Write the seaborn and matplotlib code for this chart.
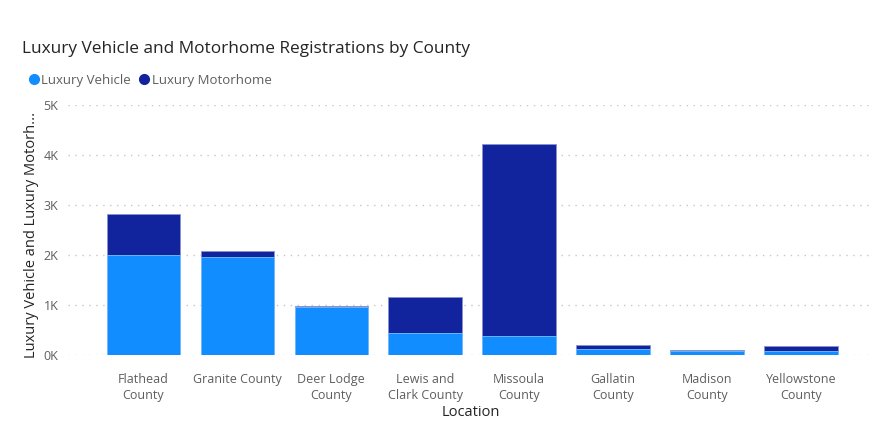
import matplotlib
matplotlib.use("Agg")
import matplotlib.pyplot as plt
import seaborn as sns
import pandas as pd
from matplotlib.lines import Line2D
from matplotlib.ticker import FuncFormatter

# values (registrations)
counties = ["Flathead County", "Granite County", "Deer Lodge County", "Lewis and Clark County",
            "Missoula County", "Gallatin County", "Madison County", "Yellowstone County"]
tick_labels = ["Flathead\nCounty", "Granite County", "Deer Lodge\nCounty", "Lewis and\nClark County",
               "Missoula\nCounty", "Gallatin\nCounty", "Madison\nCounty", "Yellowstone\nCounty"]
luxury_vehicle = [2000, 1970, 960, 450, 380, 130, 85, 80]
luxury_motorhome = [830, 120, 20, 720, 3850, 80, 15, 100]

df = pd.DataFrame({"Location": counties, "vehicle": luxury_vehicle, "motorhome": luxury_motorhome})
df["total"] = df["vehicle"] + df["motorhome"]

sns.set_style("white")
plt.rcParams['font.family'] = ['Open Sans', 'DejaVu Sans']

light = "#118DFF"
dark = "#12239E"
grey = "#605E5C"

fig = plt.figure(figsize=(8.84, 4.38), dpi=100)
ax = fig.add_axes([0.077, 0.1895, 0.912, 0.5705])

# stacked look: total in dark, vehicle share on top of it in light blue
sns.barplot(data=df, x="Location", y="total", color=dark, width=0.78, saturation=1,
            edgecolor="#8a93d0", linewidth=0.6, ax=ax)
sns.barplot(data=df, x="Location", y="vehicle", color=light, width=0.78, saturation=1,
            edgecolor="#7cc0ff", linewidth=0.6, ax=ax)

ax.set_ylim(0, 5000)
ax.set_xlim(-0.8, 7.78)
ax.set_yticks([0, 1000, 2000, 3000, 4000, 5000])
ax.yaxis.set_major_formatter(FuncFormatter(lambda v, p: f"{int(v/1000)}K"))
ax.set_xticks(range(len(tick_labels)))
ax.set_xticklabels(tick_labels, fontsize=9, color=grey, linespacing=1.3)
ax.tick_params(axis="y", labelsize=9, labelcolor=grey, length=0, pad=7)
ax.tick_params(axis="x", length=0, pad=13)
ax.set_axisbelow(True)
ax.yaxis.grid(True, color="#C8C6C4", linestyle=(0, (1, 4)), linewidth=1)
for s in ax.spines.values():
    s.set_visible(False)

ax.set_xlabel("Location", fontsize=10.5, color="#252423", labelpad=2)
ax.set_ylabel("Luxury Vehicle and Luxury Motorh...", fontsize=10.5, color="#252423")
ax.yaxis.set_label_coords(-0.036, 0.48)

fig.text(0.025, 0.888, "Luxury Vehicle and Motorhome Registrations by County",
         fontsize=12.4, color="#252423", va="center")

handles = [Line2D([], [], marker="o", linestyle="", markersize=7, color=light),
           Line2D([], [], marker="o", linestyle="", markersize=7, color=dark)]
fig.legend(handles, ["Luxury Vehicle", "Luxury Motorhome"], loc="center left",
           bbox_to_anchor=(0.017, 0.817), ncol=2, frameon=False, fontsize=9.5,
           handletextpad=0.1, columnspacing=0.5, handlelength=1.0, labelcolor=grey)

fig.savefig("out.png", dpi=100, facecolor="white")
